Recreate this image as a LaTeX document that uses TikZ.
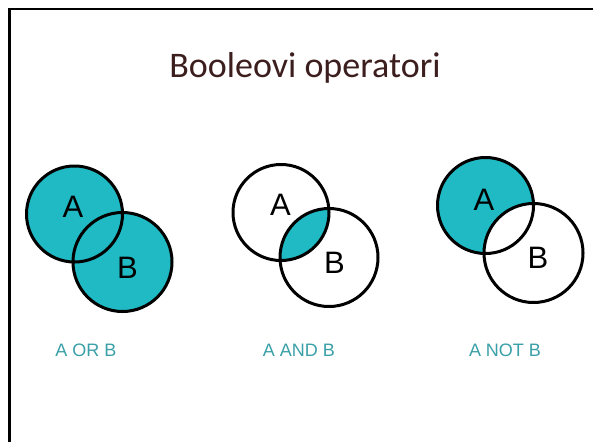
\documentclass[tikz,border=0pt]{standalone}
\usepackage{fontspec}
\setmainfont{Liberation Sans}
\newfontfamily\titlefont{Carlito}
\definecolor{vennfill}{RGB}{31,186,196}
\definecolor{labteal}{RGB}{58,160,168}
\definecolor{titlebrown}{RGB}{60,30,30}
\begin{document}
\begin{tikzpicture}[x=1pt,y=-1pt,
  ring/.style={draw=black,line width=3pt},
  letter/.style={anchor=base,inner sep=0pt,font=\fontsize{31}{31}\selectfont},
  oplabel/.style={anchor=base,inner sep=0pt,text=labteal,font=\fontsize{18}{18}\selectfont}]
\useasboundingbox (0,0) rectangle (593,442);
\fill[white] (0,0) rectangle (593,442);
% frame
\draw[line width=2.2pt] (593,9) -- (9.5,9) -- (9.5,442);
% title
\node[anchor=base,inner sep=0pt,text=titlebrown,font=\titlefont\fontsize{36}{36}\selectfont] (title) at (305,77) {Booleovi operatori};
% centers
\coordinate (orA) at (74.5,214);
\coordinate (orB) at (122.5,262);
\coordinate (andA) at (281,212.5);
\coordinate (andB) at (329,257.5);
\coordinate (notA) at (485.5,205.5);
\coordinate (notB) at (533.5,253);
% OR
\fill[vennfill] (orA) circle (48) (orB) circle (49.5);
\draw[ring] (orA) circle (48);
\draw[ring] (orB) circle (49.5);
% AND
\begin{scope}
  \clip (andA) circle (48);
  \fill[vennfill] (andB) circle (49);
\end{scope}
\draw[ring] (andA) circle (48);
\draw[ring] (andB) circle (49);
% NOT
\fill[vennfill] (notA) circle (48);
\fill[white] (notB) circle (49.5);
\draw[ring] (notA) circle (48);
\draw[ring] (notB) circle (49.5);
% letters
\node[letter] (lorA) at (73,217) {A};
\node[letter] (lorB) at (127.5,278) {B};
\node[letter] (landA) at (280.5,215) {A};
\node[letter] (landB) at (334.5,273) {B};
\node[letter] (lnotA) at (484,210) {A};
\node[letter] (lnotB) at (538,268) {B};
% operator labels
\node[oplabel] (opor) at (86,356) {A OR B};
\node[oplabel] (opand) at (299,356) {A AND B};
\node[oplabel] (opnot) at (505,356) {A NOT B};
\end{tikzpicture}
\end{document}
